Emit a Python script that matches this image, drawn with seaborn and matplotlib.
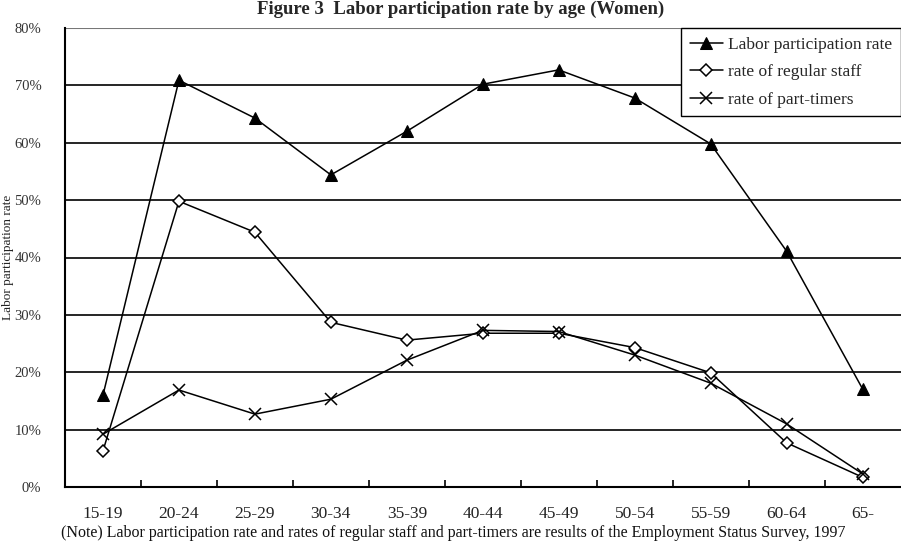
import numpy as np
import pandas as pd
import matplotlib
matplotlib.use("Agg")
import matplotlib.pyplot as plt
import seaborn as sns
from matplotlib.ticker import FixedLocator, PercentFormatter

ages = ["15-19", "20-24", "25-29", "30-34", "35-39", "40-44",
        "45-49", "50-54", "55-59", "60-64", "65-"]
labor_rate = [16.0, 70.9, 64.3, 54.4, 62.0, 70.2, 72.7, 67.8, 59.8, 41.1, 17.1]
regular_rate = [6.3, 49.8, 44.4, 28.7, 25.6, 26.8, 26.8, 24.3, 19.9, 7.7, 1.7]
part_rate = [9.2, 16.9, 12.7, 15.3, 22.1, 27.3, 27.1, 23.0, 18.1, 11.0, 2.3]
series_names = ["Labor participation rate", "rate of regular staff", "rate of part-timers"]
y_ticks = [0, 10, 20, 30, 40, 50, 60, 70, 80]

sns.set_theme(style="white")
plt.rcParams["font.family"] = ["Liberation Serif", "DejaVu Serif"]

fig = plt.figure(figsize=(9.01, 5.44), dpi=100)
ax = fig.add_axes([65 / 901, 1 - 487 / 544, 1 - 65 / 901 - 0.0005, (487 - 28) / 544])

pos = np.arange(len(ages))
df = pd.DataFrame({"pos": pos, "labor": labor_rate, "regular": regular_rate, "part": part_rate})

sns.lineplot(data=df, x="pos", y="labor", ax=ax, color="black", lw=1.1,
             marker="^", markersize=8, markerfacecolor="black",
             markeredgecolor="black", label=series_names[0], zorder=5)
sns.lineplot(data=df, x="pos", y="regular", ax=ax, color="black", lw=1.1,
             marker="D", markersize=6, markerfacecolor="white",
             markeredgecolor="black", markeredgewidth=1.1,
             label=series_names[1], zorder=5)
sns.lineplot(data=df, x="pos", y="part", ax=ax, color="black", lw=1.1,
             marker="x", markersize=8, markeredgecolor="black",
             markeredgewidth=1.1, label=series_names[2], zorder=5)

ax.set_xlim(-0.5, len(ages) - 0.5)
ax.set_ylim(0, 80)
ax.set_yticks(y_ticks)
ax.yaxis.set_major_formatter(PercentFormatter(decimals=0))
ax.set_xticks(pos)
ax.set_xticklabels(ages)
ax.xaxis.set_minor_locator(FixedLocator(np.arange(0.5, len(ages) - 0.5, 1)))
ax.tick_params(axis="x", which="major", length=0, pad=14, labelsize=12.5)
ax.tick_params(axis="x", which="minor", direction="in", length=5, width=1.2, color="black", bottom=True)
ax.tick_params(axis="y", which="major", length=0, pad=17, labelsize=10.5)
for t in ax.get_yticklabels():
    t.set_color("#333333")
for t in ax.get_xticklabels():
    t.set_color("#222222")

for v in y_ticks[1:-1]:
    ax.axhline(v, color="black", lw=1.2, zorder=1)
ax.axhline(80, color="#777777", lw=1.5, zorder=1)

for s in ["right", "top"]:
    ax.spines[s].set_visible(False)
ax.spines["left"].set_color("black")
ax.spines["left"].set_linewidth(1.5)
ax.spines["bottom"].set_color("black")
ax.spines["bottom"].set_linewidth(1.5)

ax.set_xlabel("")
ax.set_ylabel("")
fig.text(8 / 901, 1 - 257 / 544, "Labor participation rate", rotation=90,
         ha="center", va="center", fontsize=9.5, color="#222222")

leg = ax.legend(loc="upper right", bbox_to_anchor=(1.0, 1.0), borderaxespad=0,
                fancybox=False, frameon=True, framealpha=1, edgecolor="black",
                fontsize=12.5, handlelength=1.9, handletextpad=0.3,
                labelspacing=0.65, borderpad=0.5)
leg.get_frame().set_linewidth(1.0)
leg.set_zorder(10)

fig.text(461 / 901, 1 - 9 / 544, "Figure 3  Labor participation rate by age (Women)",
         ha="center", va="center", fontsize=13.5, fontweight="bold")
fig.text(453 / 901, 1 - 533 / 544,
         "(Note) Labor participation rate and rates of regular staff and part-timers are results of the Employment Status Survey, 1997",
         ha="center", va="center", fontsize=11.5, color="#111111")

fig.savefig("out.png", dpi=100)
